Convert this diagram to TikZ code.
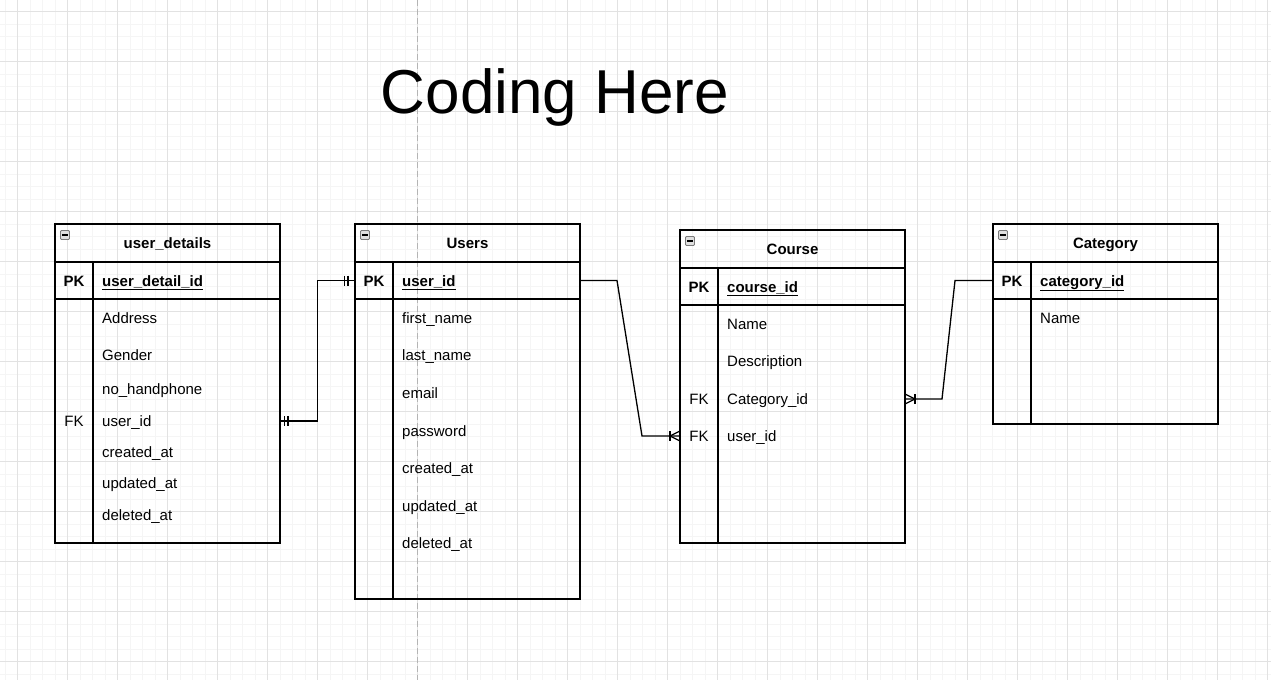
\documentclass[tikz,border=0pt]{standalone}
\usepackage{fontspec}
\setmainfont{Liberation Sans}
\usetikzlibrary{calc}
\definecolor{gridminor}{HTML}{F5F5F5}
\definecolor{gridmajor}{HTML}{E2E2E2}
\definecolor{dashgray}{HTML}{B4B4B4}
\definecolor{iconedge}{HTML}{7A7A7A}
\definecolor{iconfill}{HTML}{E0E0E0}
\tikzset{
  tbl/.style={draw=black, line width=1.2pt, rectangle, anchor=north west, inner sep=0pt, outer sep=0pt},
  sepline/.style={draw=black, line width=1.2pt},
  ttl/.style={font=\bfseries\fontsize{15}{18}\selectfont, inner sep=0pt, text height=11pt, text depth=0pt},
  fld/.style={font=\fontsize{15}{18}\selectfont, anchor=west, inner sep=0pt, text height=11pt, text depth=0pt},
  kfld/.style={fld, font=\bfseries\fontsize{15}{18}\selectfont},
  klbl/.style={font=\fontsize{15}{18}\selectfont, inner sep=0pt, text height=11pt, text depth=0pt},
  kbold/.style={klbl, font=\bfseries\fontsize{15}{18}\selectfont},
  conn/.style={draw=black, line width=1.3pt},
  iconbox/.style={draw=iconedge, fill=iconfill, line width=0.9pt, rounded corners=1pt},
  iconminus/.style={draw=black, line width=1.5pt},
  minorline/.style={draw=gridminor, line width=0.8pt},
  majorline/.style={draw=gridmajor, line width=0.8pt},
}
\newcommand\ertable[6]{%
  \node[tbl, minimum width=#4pt, minimum height=#5pt] (#1) at (#2,#3) {};
  \draw[sepline] ($(#1.north west)+(0,38)$) -- ($(#1.north east)+(0,38)$);
  \draw[sepline] ($(#1.north west)+(0,75)$) -- ($(#1.north east)+(0,75)$);
  \draw[sepline] ($(#1.north west)+(38,38)$) -- ($(#1.south west)+(38,0)$);
  \node[ttl] (#1-title) at ($(#1.north)+(0,19)$) {#6};
  \draw[iconbox] ($(#1.north west)+(5.5,6.5)$) rectangle ++(9,9);
  \draw[iconminus] ($(#1.north west)+(7.3,11)$) -- ++(5.4,0);
}
\begin{document}
\begin{tikzpicture}[x=1pt,y=-1pt]
\useasboundingbox (0,0) rectangle (1271,680);
\fill[white] (0,0) rectangle (1271,680);
% grid
\foreach \i in {0,...,101} \draw[minorline] ({5+12.5*\i},0) -- ({5+12.5*\i},680);
\foreach \j in {0,...,54} \draw[minorline] (0,{-0.8+12.5*\j}) -- (1271,{-0.8+12.5*\j});
\foreach \i in {0,...,25} \draw[majorline] ({17.5+50*\i},0) -- ({17.5+50*\i},680);
\foreach \j in {0,...,13} \draw[majorline] (0,{11.7+50*\j}) -- (1271,{11.7+50*\j});
\draw[dashgray, line width=1.2pt, dash pattern=on 6pt off 3pt] (417.7,0) -- (417.7,680);

% title
\node[font=\fontsize{62}{70}\selectfont, anchor=base, inner sep=0pt] (title) at (555,113) {Coding Here};

% user_details
\ertable{ud}{55}{224}{225}{319}{user\_details}
\node[kbold] (ud-pk) at (74,280.5) {PK};
\node[kfld] (ud-pkf) at (102,280.5) {\underline{user\_detail\_id}};
\node[fld] (ud-f1) at (102,318) {Address};
\node[fld] (ud-f2) at (102,355) {Gender};
\node[fld] (ud-f3) at (102,389) {no\_handphone};
\node[klbl] (ud-fk) at (74,421) {FK};
\node[fld] (ud-uid) at (102,421) {user\_id};
\node[fld] (ud-f5) at (102,452) {created\_at};
\node[fld] (ud-f6) at (102,483) {updated\_at};
\node[fld] (ud-f7) at (102,515) {deleted\_at};

% Users
\ertable{us}{355}{224}{225}{375}{Users}
\node[kbold] (us-pk) at (374,280.5) {PK};
\node[kfld] (us-pkf) at (402,280.5) {\underline{user\_id}};
\node[fld] (us-f1) at (402,318) {first\_name};
\node[fld] (us-f2) at (402,355) {last\_name};
\node[fld] (us-f3) at (402,393) {email};
\node[fld] (us-f4) at (402,431) {password};
\node[fld] (us-f5) at (402,468) {created\_at};
\node[fld] (us-f6) at (402,506) {updated\_at};
\node[fld] (us-f7) at (402,543) {deleted\_at};

% Course
\ertable{co}{680}{230}{225}{313}{Course}
\node[kbold] (co-pk) at (699,286.5) {PK};
\node[kfld] (co-pkf) at (727,286.5) {\underline{course\_id}};
\node[fld] (co-f1) at (727,324) {Name};
\node[fld] (co-f2) at (727,361) {Description};
\node[klbl] (co-fk1) at (699,399) {FK};
\node[fld] (co-cat) at (727,399) {Category\_id};
\node[klbl] (co-fk2) at (699,436) {FK};
\node[fld] (co-uid) at (727,436) {user\_id};

% Category
\ertable{ca}{993}{224}{225}{200}{Category}
\node[kbold] (ca-pk) at (1012,280.5) {PK};
\node[kfld] (ca-pkf) at (1040,280.5) {\underline{category\_id}};
\node[fld] (ca-f1) at (1040,318) {Name};

% connector 1: user_details.user_id -- Users.user_id
\coordinate (c1a) at (ud.east |- ud-uid);
\coordinate (c1b) at (us.west |- us-pkf);
\draw[conn] (c1a) -| ($(c1a)!.5!(c1b)$) |- (c1b);
\draw[conn] ($(c1a)+(4.5,-5)$) -- ++(0,10);
\draw[conn] ($(c1a)+(8,-5)$) -- ++(0,10);
\draw[conn] ($(c1b)+(-10.5,-5)$) -- ++(0,10);
\draw[conn] ($(c1b)+(-7,-5)$) -- ++(0,10);

% connector 2: Users.user_id -- Course.user_id
\coordinate (c2a) at (us.east |- us-pkf);
\coordinate (c2b) at (co.west |- co-uid);
\draw[conn] (c2a) -- ++(37,0) -- ($(c2b)+(-38,0)$) -- (c2b);
\draw[conn] ($(c2b)+(0,-5)$) -- ($(c2b)+(-10,0)$) -- ($(c2b)+(0,5)$);
\draw[conn] ($(c2b)+(-10,-5)$) -- ++(0,10);

% connector 3: Category.category_id -- Course.Category_id
\coordinate (c3a) at (ca.west |- ca-pkf);
\coordinate (c3b) at (co.east |- co-cat);
\draw[conn] (c3a) -- ++(-38,0) -- ($(c3b)+(37,0)$) -- (c3b);
\draw[conn] ($(c3b)+(0,-5)$) -- ($(c3b)+(10,0)$) -- ($(c3b)+(0,5)$);
\draw[conn] ($(c3b)+(10,-5)$) -- ++(0,10);
\end{tikzpicture}
\end{document}
